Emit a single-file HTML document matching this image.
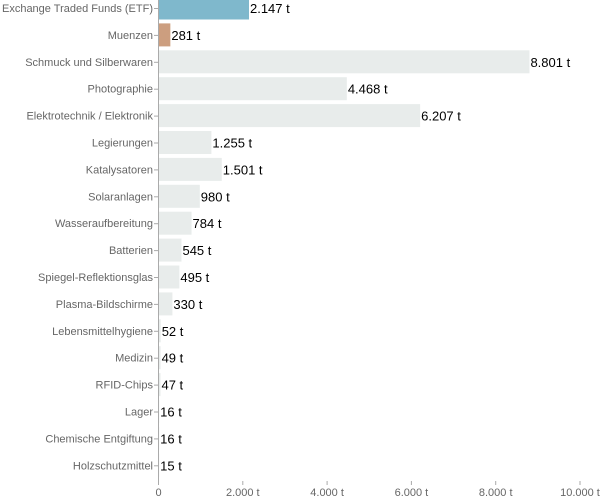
<!DOCTYPE html>
<html><head><meta charset="utf-8"><style>
body{margin:0;background:#fff}
svg{display:block;font-family:"Liberation Sans",sans-serif}
</style></head><body>
<svg id="c" width="600" height="500"></svg>
<script>
const categories=["Exchange Traded Funds (ETF)","Muenzen","Schmuck und Silberwaren","Photographie","Elektrotechnik / Elektronik","Legierungen","Katalysatoren","Solaranlagen","Wasseraufbereitung","Batterien","Spiegel-Reflektionsglas","Plasma-Bildschirme","Lebensmittelhygiene","Medizin","RFID-Chips","Lager","Chemische Entgiftung","Holzschutzmittel"];
const values=[2147,281,8801,4468,6207,1255,1501,980,784,545,495,330,52,49,47,16,16,15];
const valueLabels=["2.147 t","281 t","8.801 t","4.468 t","6.207 t","1.255 t","1.501 t","980 t","784 t","545 t","495 t","330 t","52 t","49 t","47 t","16 t","16 t","15 t"];
const ticks=[0,2000,4000,6000,8000,10000];
const tickLabels=["0","2.000 t","4.000 t","6.000 t","8.000 t","10.000 t"];
const colors=["#7fb8cc","#cc9e7f"];
const NS="http://www.w3.org/2000/svg";
const svg=document.getElementById('c');
const x=v=>158.5+v*(580-158.5)/10000;
const yc=i=>8+i*26.9;
function el(t,a,txt){const e=document.createElementNS(NS,t);for(const k in a)e.setAttribute(k,a[k]);if(txt!=null)e.textContent=txt;svg.appendChild(e);return e;}
categories.forEach((c,i)=>{
  const b=el('rect',{x:x(0),y:yc(i)-11.5,width:x(values[i])-x(0),height:23,fill:colors[i]||"#e8eceb"});
  
  
  const t=el('line',{x1:154,x2:158.5,y1:yc(i)+.5,y2:yc(i)+.5,stroke:"#aaa"});
  
  
  const l=el('text',{x:153,y:yc(i)+4,'text-anchor':'end','font-size':11,fill:"#666"},c);
  
  
  const v=el('text',{x:x(values[i])+1,y:yc(i)+5,'font-size':13,fill:"#000"},valueLabels[i]);
  
  
});
const ax=el('line',{x1:158.5,x2:158.5,y1:0,y2:481,stroke:"#aaa"});


ticks.forEach((t,i)=>{
  const tl=el('line',{x1:x(t),x2:x(t),y1:481,y2:485,stroke:"#aaa"});
  
  
  const tx=el('text',{x:x(t),y:496,'text-anchor':'middle','font-size':11,fill:"#666"},tickLabels[i]);
  
  
});
</script>
</body></html>
